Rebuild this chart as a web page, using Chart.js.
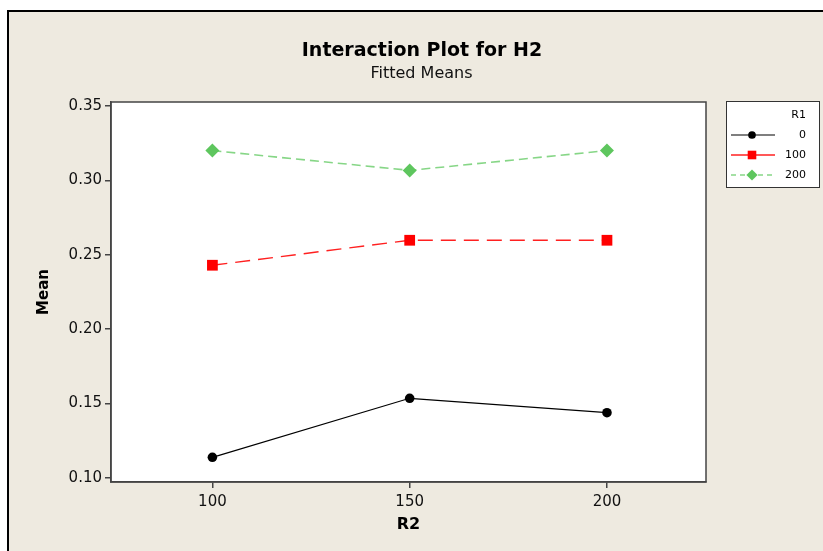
<!DOCTYPE html>
<html>
<head>
<meta charset="utf-8">
<script src="https://cdn.jsdelivr.net/npm/chart.js@4/dist/chart.umd.min.js"></script>
<style>
  html, body { margin: 0; padding: 0; background: #ffffff; }
  #wrap { width: 823px; height: 551px; }
</style>
</head>
<body>
<div id="wrap"><canvas id="c" width="823" height="551"></canvas></div>
<script>
// Factor levels and fitted means
const r2Levels = [100, 150, 200];
const r1Levels = ['0', '100', '200'];
const meanR1_0   = [0.1137, 0.1534, 0.1437];
const meanR1_100 = [0.2429, 0.2597, 0.2597];
const meanR1_200 = [0.3200, 0.3067, 0.3200];
const yTicks = [0.10, 0.15, 0.20, 0.25, 0.30, 0.35];
const xTicks = [100, 150, 200];

const FONT = '"DejaVu Sans", Verdana, sans-serif';
const BG = '#eeeae0';
const FRAME = '#444444';

function pts(vals) { return r2Levels.map((x, i) => ({ x: x, y: vals[i] })); }

const seriesStyle = [
  { color: '#000000', line: '#000000', dash: [], style: 'circle', r: 4.8, w: 1.2 },
  { color: '#ff0000', line: '#ff2020', dash: [15, 8], style: 'rect', r: 7.6, w: 1.4 },
  { color: '#5ec65e', line: '#86d686', dash: [9, 5], style: 'rectRot', r: 7, w: 1.6 }
];
const seriesVals = [meanR1_0, meanR1_100, meanR1_200];

const datasets = seriesVals.map((v, i) => ({
  label: r1Levels[i],
  data: pts(v),
  borderColor: seriesStyle[i].line,
  backgroundColor: seriesStyle[i].color,
  pointBackgroundColor: seriesStyle[i].color,
  pointBorderColor: seriesStyle[i].color,
  pointBorderWidth: 0,
  pointStyle: seriesStyle[i].style,
  pointRadius: seriesStyle[i].r,
  borderWidth: seriesStyle[i].w,
  borderDash: seriesStyle[i].dash,
  tension: 0,
  fill: false
}));

// Page frame and background
const backdrop = {
  id: 'backdrop',
  beforeDraw(chart) {
    const ctx = chart.ctx;
    ctx.save();
    ctx.fillStyle = '#ffffff';
    ctx.fillRect(0, 0, chart.width, chart.height);
    ctx.fillStyle = '#000000';
    ctx.fillRect(7, 10, chart.width, chart.height);
    ctx.fillStyle = BG;
    ctx.fillRect(9, 12, chart.width, chart.height);
    const a = chart.chartArea;
    ctx.fillStyle = '#ffffff';
    ctx.fillRect(a.left, a.top, a.right - a.left, a.bottom - a.top);
    ctx.restore();
  },
  afterDraw(chart) {
    const ctx = chart.ctx;
    const a = chart.chartArea;
    ctx.save();
    // plot frame
    ctx.strokeStyle = FRAME;
    ctx.lineWidth = 1.5;
    ctx.strokeRect(a.left, a.top, a.right - a.left, a.bottom - a.top);

    // titles
    ctx.fillStyle = '#000000';
    ctx.textAlign = 'center';
    ctx.textBaseline = 'alphabetic';
    ctx.font = 'bold 19px ' + FONT;
    ctx.fillText('Interaction Plot for H2', 422, 56);
    ctx.font = '16px ' + FONT;
    ctx.fillStyle = '#111111';
    ctx.fillText('Fitted Means', 421.5, 78);

    // axis titles
    ctx.fillStyle = '#000000';
    ctx.font = 'bold 16px ' + FONT;
    ctx.textBaseline = 'middle';
    ctx.fillText('R2', (a.left + a.right) / 2, 525);
    ctx.save();
    ctx.translate(44, (a.top + a.bottom) / 2);
    ctx.rotate(-Math.PI / 2);
    ctx.font = 'bold 15px ' + FONT;
    ctx.fillText('Mean', 0, 0);
    ctx.restore();

    // legend
    const lx = 726, ly = 101, lw = 93, lh = 86;
    ctx.fillStyle = '#ffffff';
    ctx.fillRect(lx, ly, lw, lh);
    ctx.strokeStyle = '#333333';
    ctx.lineWidth = 1;
    ctx.strokeRect(lx + 0.5, ly + 0.5, lw, lh);
    ctx.fillStyle = '#000000';
    ctx.font = '11px ' + FONT;
    ctx.textAlign = 'right';
    ctx.textBaseline = 'middle';
    ctx.fillText('R1', 806, 115.5);
    const rows = [135, 155, 175];
    chart.data.datasets.forEach((ds, i) => {
      const y = rows[i];
      ctx.save();
      ctx.strokeStyle = ds.borderColor;
      ctx.lineWidth = ds.borderWidth;
      ctx.setLineDash(i === 2 ? [5, 4] : []);
      ctx.beginPath();
      ctx.moveTo(731, y);
      ctx.lineTo(775, y);
      ctx.stroke();
      ctx.restore();
      ctx.save();
      ctx.fillStyle = ds.pointBackgroundColor;
      ctx.strokeStyle = ds.pointBorderColor;
      ctx.lineWidth = 0;
      Chart.helpers.drawPoint(ctx, { pointStyle: ds.pointStyle, radius: ds.pointRadius * 0.8, rotation: 0, borderWidth: 0 }, 752, y);
      ctx.restore();
      ctx.fillStyle = '#000000';
      ctx.fillText(ds.label, 806, y);
    });
    ctx.restore();
  }
};

new Chart(document.getElementById('c'), {
  type: 'line',
  data: { datasets: datasets },
  plugins: [backdrop],
  options: {
    responsive: false,
    devicePixelRatio: 1,
    animation: false,
    layout: { padding: { top: 102, right: 117, left: 0, bottom: 0 } },
    plugins: {
      legend: { display: false },
      tooltip: { enabled: false },
      title: { display: false }
    },
    scales: {
      x: {
        type: 'linear',
        min: 74.3,
        max: 225.1,
        afterBuildTicks: s => { s.ticks = xTicks.map(v => ({ value: v })); },
        afterFit: s => { s.height = 69; },
        grid: { drawOnChartArea: false, drawTicks: true, tickLength: 6, color: FRAME, lineWidth: 1.5 },
        border: { display: true, color: FRAME, width: 1.5 },
        ticks: {
          color: '#111111',
          font: { family: FONT, size: 15 },
          padding: 5,
          maxRotation: 0,
          callback: v => String(v)
        }
      },
      y: {
        type: 'linear',
        min: 0.0971,
        max: 0.3527,
        afterBuildTicks: s => { s.ticks = yTicks.map(v => ({ value: v })); },
        afterFit: s => { s.width = 111; },
        grid: { drawOnChartArea: false, drawTicks: true, tickLength: 6, color: FRAME, lineWidth: 1.5 },
        border: { display: true, color: FRAME, width: 1.5 },
        ticks: {
          color: '#111111',
          font: { family: FONT, size: 15 },
          padding: 3,
          callback: v => Number(v).toFixed(2)
        }
      }
    }
  }
});
</script>
</body>
</html>
